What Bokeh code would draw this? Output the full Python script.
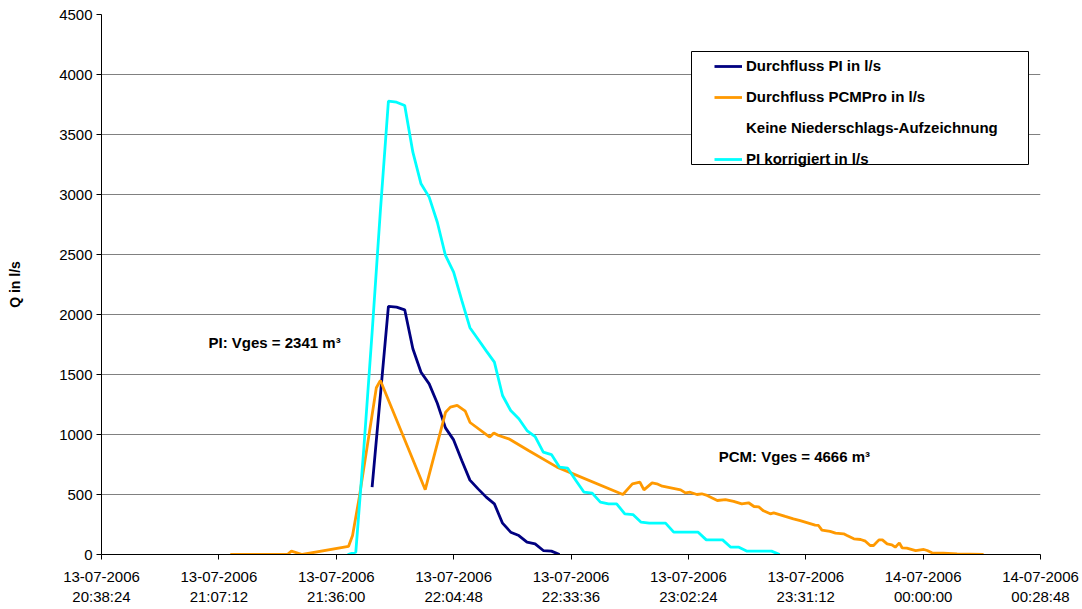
import pandas as pd
from bokeh.plotting import figure
from bokeh.models import (FixedTicker, DatetimeTickFormatter, Legend, LegendItem,
                          Label, Range1d, BoxAnnotation)
from bokeh.embed import file_html
from bokeh.resources import INLINE

DAY1 = "2006-07-13"
DAY2 = "2006-07-14"

# ---- Durchfluss PI in l/s ----
pi_times = ["21:44:48", "21:48:48", "21:50:48", "21:52:48", "21:54:48", "21:56:48",
            "21:58:48", "22:00:48", "22:02:48", "22:04:48", "22:06:48", "22:08:48",
            "22:10:48", "22:12:48", "22:14:48", "22:16:48", "22:18:48", "22:20:48",
            "22:22:48", "22:24:48", "22:26:48", "22:28:48", "22:30:48"]
pi_values = [561, 2067, 2061, 2039, 1714, 1519, 1422, 1260, 1055, 955, 783, 620,
             547, 478, 422, 261, 186, 158, 103, 89, 33, 28, 0]

# ---- PI korrigiert in l/s ----
pik_times = ["21:38:48", "21:40:48", "21:42:48", "21:44:48", "21:46:48", "21:48:48",
             "21:50:48", "21:52:48", "21:54:48", "21:56:48", "21:58:48", "22:00:48",
             "22:02:48", "22:04:48", "22:06:48", "22:08:48", "22:10:48", "22:12:48",
             "22:14:48", "22:16:48", "22:18:48", "22:20:48", "22:22:48", "22:24:48",
             "22:26:48", "22:28:48", "22:30:48", "22:32:48", "22:34:48", "22:36:48",
             "22:38:48", "22:40:48", "22:42:48", "22:44:48", "22:46:48", "22:48:48",
             "22:50:48", "22:52:48", "22:54:48", "22:56:48", "22:58:48", "23:00:48",
             "23:02:48", "23:04:48", "23:06:48", "23:08:48", "23:10:48", "23:12:48",
             "23:14:48", "23:16:48", "23:18:48", "23:20:48", "23:22:48", "23:24:48"]
pik_values = [0, 20, 900, 1850, 2850, 3778, 3769, 3742, 3353, 3089, 2978, 2769,
              2492, 2353, 2117, 1890, 1794, 1697, 1603, 1325, 1200, 1131, 1033, 983,
              853, 833, 728, 719, 617, 519, 511, 436, 422, 422, 339, 333,
              269, 261, 261, 261, 186, 186, 186, 186, 122, 122, 122, 61,
              61, 28, 28, 28, 28, 0]

# ---- Durchfluss PCMPro in l/s ----
pcm_times = ["21:10:00", "21:24:00", "21:25:00", "21:27:40", "21:39:00", "21:40:00",
             "21:41:40", "21:45:50", "21:46:50", "21:57:50", "22:02:50", "22:04:00",
             "22:05:40", "22:07:40", "22:08:50", "22:13:40", "22:14:40", "22:15:50",
             "22:18:20", "22:23:10", "22:30:10", "22:46:20", "22:48:40", "22:50:30",
             "22:51:30", "22:53:30", "22:54:40", "22:56:00", "23:00:30", "23:01:40",
             "23:02:50", "23:04:30", "23:05:40", "23:07:00", "23:09:30", "23:11:30",
             "23:13:30", "23:15:30", "23:17:10", "23:18:30", "23:19:40", "23:20:50",
             "23:22:30", "23:23:20", "23:26:10", "23:28:10", "23:29:50", "23:33:30",
             "23:34:20", "23:35:10", "23:37:10", "23:38:30", "23:40:30", "23:41:20",
             "23:43:00", "23:44:40", "23:45:50", "23:47:00", "23:47:50", "23:49:10",
             "23:50:00", "23:51:10", "23:52:20", "23:53:10", "23:54:10", "23:54:50",
             "23:56:00", "23:58:10", "00:00:10", "00:01:00", "00:02:10", "00:05:00",
             "00:08:20", "00:14:50"]
pcm_values = [0, 0, 28, 0, 67, 158,
              480, 1390, 1450, 540, 1186, 1228,
              1242, 1194, 1100, 978, 1013, 992,
              964, 867, 728, 500, 589, 603,
              539, 597, 589, 569, 539, 514,
              519, 500, 506, 492, 450, 458,
              442, 422, 431, 400, 397, 364,
              339, 347, 317, 297, 283, 245,
              242, 203, 192, 178, 172, 158,
              131, 125, 111, 75, 75, 122,
              122, 89, 81, 61, 97, 56,
              53, 33, 42, 33, 14, 11,
              6, 0]

x_tick_times = ["2006-07-13 20:38:24", "2006-07-13 21:07:12", "2006-07-13 21:36:00",
                "2006-07-13 22:04:48", "2006-07-13 22:33:36", "2006-07-13 23:02:24",
                "2006-07-13 23:31:12", "2006-07-14 00:00:00", "2006-07-14 00:28:48"]
y_ticks = [0, 500, 1000, 1500, 2000, 2500, 3000, 3500, 4000, 4500]

legend_labels = ["Durchfluss PI in l/s", "Durchfluss PCMPro in l/s",
                 "Keine Niederschlags-Aufzeichnung", "PI korrigiert in l/s"]


def to_dt(times):
    out = []
    for t in times:
        day = DAY2 if int(t[:2]) < 12 else DAY1
        out.append(pd.Timestamp(day + " " + t))
    return out


def ms(ts):
    return pd.Timestamp(ts).value / 1e6


FONT = "Liberation Sans"
FS = "15px"

x0 = ms(x_tick_times[0])
x1 = ms(x_tick_times[-1])

p = figure(width=1080, height=608, x_axis_type="datetime",
           output_backend="svg", toolbar_location=None,
           x_range=Range1d(x0, x1), y_range=Range1d(0, 4500),
           min_border_left=101, min_border_right=40, min_border_top=14,
           min_border_bottom=54)
p.outline_line_color = None
p.background_fill_color = "white"
p.border_fill_color = "white"

# grid
p.xgrid.grid_line_color = None
p.ygrid.grid_line_color = "#808080"
p.ygrid.grid_line_width = 1

# axes
p.xaxis.ticker = FixedTicker(ticks=[ms(t) for t in x_tick_times])
fmt = "%d-%m-%Y\n%H:%M:%S"
p.xaxis.formatter = DatetimeTickFormatter(
    microseconds=fmt, milliseconds=fmt, seconds=fmt, minsec=fmt, minutes=fmt,
    hourmin=fmt, hours=fmt, days=fmt, months=fmt, years=fmt)
p.yaxis.ticker = FixedTicker(ticks=y_ticks)
p.yaxis.axis_label = "Q in l/s"
for ax in (p.xaxis, p.yaxis):
    ax.axis_line_color = "black"
    ax.axis_line_width = 1
    ax.major_tick_line_color = "black"
    ax.major_tick_out = 5
    ax.major_tick_in = 0
    ax.minor_tick_line_color = None
    ax.major_label_text_font = FONT
    ax.major_label_text_font_size = FS
    ax.major_label_text_color = "black"
p.xaxis.major_label_standoff = 8
p.yaxis.major_label_standoff = 4
p.yaxis.axis_label_text_font = FONT
p.yaxis.axis_label_text_font_size = "14px"
p.yaxis.axis_label_text_font_style = "bold"
p.yaxis.axis_label_text_color = "black"
p.yaxis.axis_label_standoff = 33

# series
r_pi = p.line(to_dt(pi_times), pi_values, line_color="#000080", line_width=2.8)
r_pcm = p.line(to_dt(pcm_times), pcm_values, line_color="#FF9900", line_width=2.8)
r_nd = p.line([], [], line_color="white", line_alpha=0, line_width=2.8)
r_pik = p.line(to_dt(pik_times), pik_values, line_color="#00FFFF", line_width=2.8)

# legend frame (drawn separately to match the reference box)
sec_per_px = (x1 - x0) / 939.0
val_per_px = 4500 / 540.0
box = BoxAnnotation(left=x0 + 590 * sec_per_px, right=x0 + 927 * sec_per_px,
                    top=(554 - 51) * val_per_px, bottom=(554 - 164) * val_per_px,
                    fill_color="white", fill_alpha=1.0, line_color="black",
                    line_width=1, line_alpha=1.0)
p.add_layout(box)

legend = Legend(items=[LegendItem(label=legend_labels[0], renderers=[r_pi]),
                       LegendItem(label=legend_labels[1], renderers=[r_pcm]),
                       LegendItem(label=legend_labels[2], renderers=[r_nd]),
                       LegendItem(label=legend_labels[3], renderers=[r_pik])],
                location=(613, 387))
legend.border_line_color = None
legend.background_fill_alpha = 0
legend.padding = 0
legend.margin = 0
legend.spacing = 14
legend.glyph_width = 28
legend.glyph_height = 16
legend.label_height = 16
legend.label_standoff = 4
legend.label_text_font = FONT
legend.label_text_font_size = FS
legend.label_text_font_style = "bold"
legend.label_text_color = "black"
legend.label_text_baseline = "middle"
p.add_layout(legend)

# annotations
lab1 = Label(x=ms("2006-07-13 21:04:39"), y=1767, text="PI: Vges = 2341 m³",
             text_font=FONT, text_font_size=FS, text_font_style="bold",
             text_color="black", text_baseline="middle", text_align="left")
lab2 = Label(x=ms("2006-07-13 23:09:51"), y=817, text="PCM: Vges = 4666 m³",
             text_font=FONT, text_font_size=FS, text_font_style="bold",
             text_color="black", text_baseline="middle", text_align="left")
p.add_layout(lab1)
p.add_layout(lab2)

open("out.html", "w").write(file_html(p, INLINE))
